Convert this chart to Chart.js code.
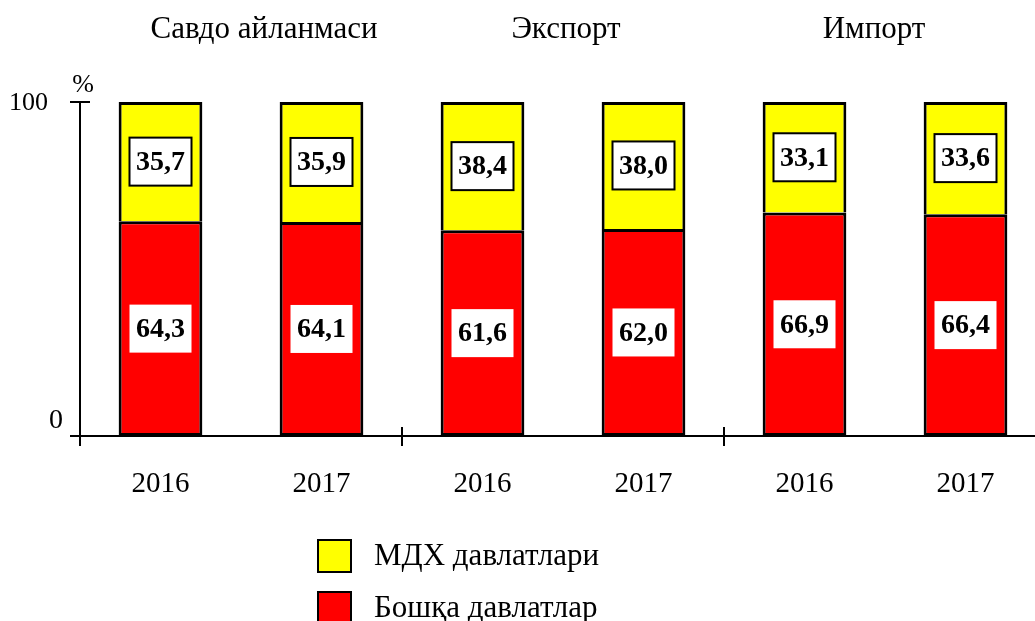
<!DOCTYPE html>
<html>
<head>
<meta charset="utf-8">
<script src="https://cdn.jsdelivr.net/npm/chart.js@4.4.1/dist/chart.umd.min.js"></script>
<style>
  html, body { margin: 0; padding: 0; background: #fff; overflow: hidden; }
  #wrap { width: 1035px; height: 621px; overflow: hidden; }
</style>
</head>
<body>
<div id="wrap"><canvas id="chart" width="1060" height="621"></canvas></div>
<script>
/* ── Data ── */
const categories = ['2016', '2017', '2016', '2017', '2016', '2017'];
const groupTitles = ['Савдо айланмаси', 'Экспорт', 'Импорт'];
const cisShare = [35.7, 35.9, 38.4, 38.0, 33.1, 33.6];
const otherShare = [64.3, 64.1, 61.6, 62.0, 66.9, 66.4];
const yTicks = [0, 100];
const seriesNames = ['Бошқа давлатлар', 'МДХ давлатлари'];

const SERIF = '"Liberation Serif", "DejaVu Serif", serif';
const fmt = v => v.toFixed(1).replace('.', ',');

/* ── Axes, titles, ticks ── */
const axesPlugin = {
  id: 'axes',
  afterDatasetsDraw(chart) {
    const { ctx, chartArea: a, scales: { x, y } } = chart;
    const y0 = y.getPixelForValue(0);
    const y100 = y.getPixelForValue(100);
    const step = x.getPixelForValue(1) - x.getPixelForValue(0);
    ctx.save();
    ctx.strokeStyle = '#000';
    ctx.lineWidth = 2;
    ctx.beginPath();
    // y axis
    ctx.moveTo(a.left, y100); ctx.lineTo(a.left, y0 + 10);
    ctx.moveTo(a.left - 10, y100); ctx.lineTo(a.left + 10, y100);
    // x axis
    ctx.moveTo(a.left - 10, y0); ctx.lineTo(chart.width, y0);
    // group separators
    for (let g = 1; g < groupTitles.length; g++) {
      const sx = a.left + g * 2 * step;
      ctx.moveTo(sx, y0 - 9); ctx.lineTo(sx, y0 + 10);
    }
    ctx.stroke();

    ctx.fillStyle = '#000';
    ctx.textAlign = 'right';
    ctx.textBaseline = 'middle';
    ctx.font = '26px ' + SERIF;
    ctx.fillText(String(yTicks[1]), a.left - 32, y.getPixelForValue(yTicks[1]) + 1);
    ctx.font = '28px ' + SERIF;
    ctx.fillText(String(yTicks[0]), a.left - 17, y.getPixelForValue(yTicks[0]) - 15);
    ctx.font = '26px ' + SERIF;
    ctx.textAlign = 'center';
    ctx.fillText('%', a.left + 3, y100 - 17);

    ctx.font = '29px ' + SERIF;
    ctx.textBaseline = 'alphabetic';
    categories.forEach((c, i) => ctx.fillText(c, x.getPixelForValue(i), 492));

    ctx.font = '31px ' + SERIF;
    const titleShift = [23, 3, -11];
    groupTitles.forEach((t, g) => {
      const cx = (x.getPixelForValue(2 * g) + x.getPixelForValue(2 * g + 1)) / 2;
      ctx.fillText(t, cx + titleShift[g], 38);
    });

    // legend (top series first)
    const items = chart.data.datasets.slice().reverse();
    ctx.textAlign = 'left';
    items.forEach((ds, k) => {
      const top = 540 + k * 52;
      ctx.fillStyle = ds.backgroundColor;
      ctx.fillRect(318, top, 33, 32);
      ctx.strokeRect(318, top, 33, 32);
      ctx.fillStyle = '#000';
      ctx.fillText(ds.label, 374, top + 25);
    });
    ctx.restore();
  }
};

/* ── Boxed value labels ── */
const boxLabels = {
  id: 'boxLabels',
  afterDatasetsDraw(chart) {
    const { ctx } = chart;
    ctx.save();
    ctx.font = 'bold 28px ' + SERIF;
    ctx.textAlign = 'center';
    ctx.textBaseline = 'middle';
    chart.data.datasets.forEach((ds, di) => {
      const meta = chart.getDatasetMeta(di);
      meta.data.forEach((el, i) => {
        const cy = (el.y + el.base) / 2;
        const w = 62, h = 48;
        ctx.fillStyle = '#fff';
        ctx.fillRect(el.x - w / 2, cy - h / 2, w, h);
        if (ds.boxBorder) {
          ctx.strokeStyle = '#000';
          ctx.lineWidth = 2;
          ctx.strokeRect(el.x - w / 2, cy - h / 2, w, h);
        }
        ctx.fillStyle = '#000';
        ctx.fillText(fmt(ds.data[i]), el.x, cy + 1);
      });
    });
    ctx.restore();
  }
};

new Chart(document.getElementById('chart'), {
  type: 'bar',
  data: {
    labels: categories,
    datasets: [
      {
        label: seriesNames[0],
        data: otherShare,
        backgroundColor: '#FF0000',
        borderColor: '#000',
        borderWidth: 3,
        borderSkipped: false,
        boxBorder: false
      },
      {
        label: seriesNames[1],
        data: cisShare,
        backgroundColor: '#FFFF00',
        borderColor: '#000',
        borderWidth: 3,
        borderSkipped: 'bottom',
        boxBorder: true
      }
    ]
  },
  options: {
    responsive: false,
    animation: false,
    layout: { padding: { left: 80, right: 14, top: 102, bottom: 185 } },
    datasets: { bar: { categoryPercentage: 1, barPercentage: 0.52 } },
    plugins: { legend: { display: false }, tooltip: { enabled: false } },
    scales: {
      x: { stacked: true, display: false },
      y: { stacked: true, display: false, min: 0, max: 100 }
    }
  },
  plugins: [axesPlugin, boxLabels]
});
</script>
</body>
</html>
